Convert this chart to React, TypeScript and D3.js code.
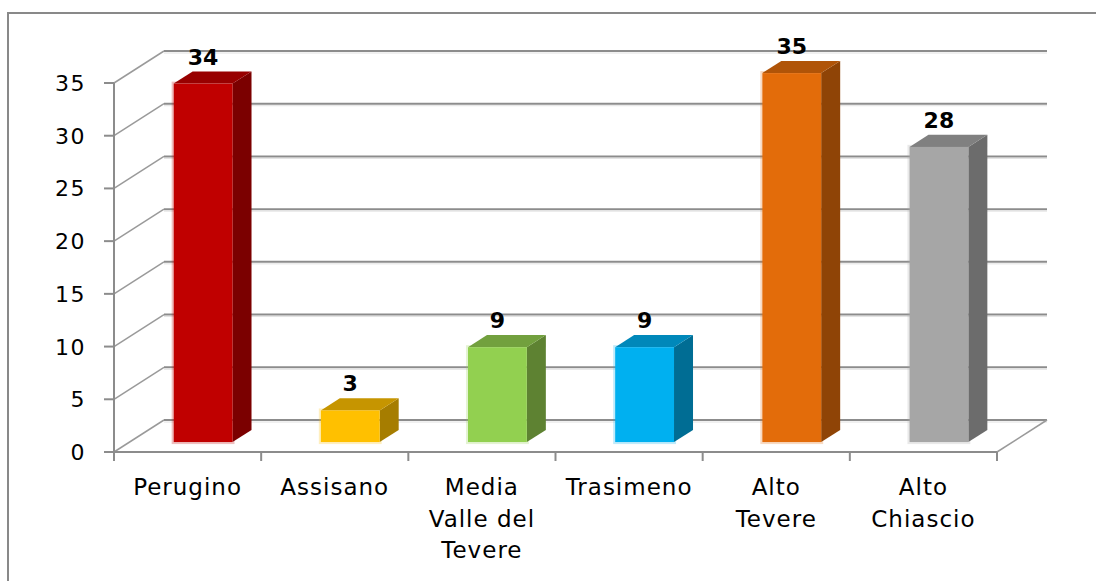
import React from 'react';
import * as d3 from 'd3';

const categories = ['Perugino', 'Assisano', 'Media Valle del Tevere', 'Trasimeno', 'Alto Tevere', 'Alto Chiascio'];
const labelLines = [['Perugino'], ['Assisano'], ['Media', 'Valle del', 'Tevere'], ['Trasimeno'], ['Alto', 'Tevere'], ['Alto', 'Chiascio']];
const values = [34, 3, 9, 9, 35, 28];
const yTicks = [0, 5, 10, 15, 20, 25, 30, 35];
const frontColors = ['#C00000', '#FFC000', '#92D050', '#00B0F0', '#E36C0A', '#A6A6A6'];
const topColors = ['#980000', '#C69500', '#72A03E', '#0088BA', '#B05408', '#808080'];
const sideColors = ['#7B0000', '#A67D00', '#5E8232', '#006D94', '#8F4406', '#6C6C6C'];

const W = 1096;
const H = 581;
// depth of the 3d box (back wall offset)
const DX = 50;
const DY = -32;
const barDepth = 0.38;
const barFront = (1 - barDepth) / 2;

export default function App() {
  const x = d3.scaleBand<string>().domain(categories).range([114, 997]).paddingInner(0).paddingOuter(0);
  const y = d3.scaleLinear().domain([0, 35]).range([452, 83]);
  const bw = x.bandwidth() * 0.4;
  const grid = '#8C8C8C';
  const font = '"DejaVu Sans", Verdana, sans-serif';

  return (
    <svg width={W} height={H} style={{ position: 'absolute', left: 0, top: 0, background: '#fff' }}>
      <rect x={8} y={13} width={1200} height={700} fill="#fff" stroke="#898989" strokeWidth={2} />

      {/* back wall gridlines and left wall diagonals */}
      {yTicks.map(t => (
        <g key={'g' + t}>
          <line x1={x.range()[0]} y1={y(t)} x2={x.range()[0] + DX} y2={y(t) + DY} stroke="#9a9a9a" strokeWidth={1.5} />
          <line x1={x.range()[0] + DX} y1={y(t) + DY} x2={x.range()[1] + DX} y2={y(t) + DY} stroke={grid} strokeWidth={2} />
          <line x1={x.range()[0] + DX} y1={y(t) + DY + 2} x2={x.range()[1] + DX} y2={y(t) + DY + 2} stroke="#e2e2e2" strokeWidth={1} />
        </g>
      ))}

      {/* floor */}
      <line x1={x.range()[1]} y1={y(0)} x2={x.range()[1] + DX} y2={y(0) + DY} stroke="#9a9a9a" strokeWidth={1.5} />
      <line x1={x.range()[0]} y1={y(0)} x2={x.range()[1]} y2={y(0)} stroke={grid} strokeWidth={2} />

      {/* value axis */}
      <line x1={x.range()[0]} y1={y(35)} x2={x.range()[0]} y2={y(0) + 9} stroke={grid} strokeWidth={2} />
      {yTicks.map(t => (
        <g key={'t' + t}>
          <line x1={x.range()[0] - 10} y1={y(t)} x2={x.range()[0]} y2={y(t)} stroke={grid} strokeWidth={2} />
          <text x={86} y={y(t) + 8} textAnchor="end" fontFamily={font} fontSize={22} letterSpacing={1.5} fill="#000">{t}</text>
        </g>
      ))}

      {/* category ticks */}
      {categories.map((c, i) => (
        <line key={'ct' + c} x1={x(c)! + x.bandwidth()} y1={y(0)} x2={x(c)! + x.bandwidth()} y2={y(0) + 9} stroke={grid} strokeWidth={2} />
      ))}

      {/* bars */}
      {categories.map((c, i) => {
        const cx = x(c)! + x.bandwidth() / 2;
        const x0 = cx - bw / 2 + DX * barFront;
        const base = y(0) + DY * barFront;
        const top = base - (y(0) - y(values[i]));
        const ddx = DX * barDepth;
        const ddy = DY * barDepth;
        const x1 = x0 + bw;
        return (
          <g key={'b' + c}>
            <rect x={x0 - 1} y={top - 1} width={bw + 2} height={base - top + 2} fill="none" stroke={frontColors[i]} strokeOpacity={0.25} strokeWidth={2} />
            <polygon points={`${x1},${top} ${x1 + ddx},${top + ddy} ${x1 + ddx},${base + ddy} ${x1},${base}`} fill={sideColors[i]} />
            <polygon points={`${x0},${top} ${x0 + ddx},${top + ddy} ${x1 + ddx},${top + ddy} ${x1},${top}`} fill={topColors[i]} />
            <rect x={x0} y={top} width={bw} height={base - top} fill={frontColors[i]} />
            <text x={cx + DX * barFront} y={top - 19} textAnchor="middle" fontFamily={font} fontWeight="bold" fontSize={22} fill="#000">{values[i]}</text>
          </g>
        );
      })}

      {/* category labels */}
      {categories.map((c, i) => (
        <text key={'l' + c} textAnchor="middle" fontFamily={font} fontSize={23} letterSpacing={1} fill="#000">
          {labelLines[i].map((ln, j) => (
            <tspan key={j} x={x(c)! + x.bandwidth() / 2} y={495 + j * 31.5}>{ln}</tspan>
          ))}
        </text>
      ))}
    </svg>
  );
}
